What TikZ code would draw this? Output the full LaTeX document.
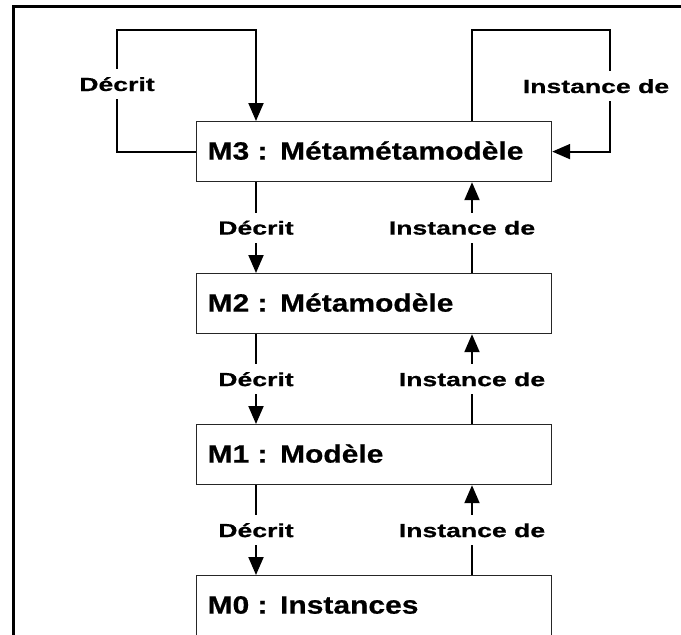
\documentclass[tikz,border=0pt]{standalone}
\usepackage{fontspec}
\setmainfont{Liberation Sans}
\newfontfamily\boxfont{Liberation Sans}[FakeStretch=1.2, FakeBold=0.6]
\newfontfamily\lblfont{Liberation Sans}[FakeStretch=1.4, FakeBold=0.6]
\usetikzlibrary{arrows.meta}

\begin{document}
\begin{tikzpicture}[x=1pt,y=-1pt,
  level/.style={draw=black!85, line width=1.2pt, fill=white, anchor=north west,
    inner xsep=11pt, inner ysep=0pt, text width=333pt, align=left,
    text height=38pt, text depth=22pt,
    font=\boxfont\bfseries\fontsize{25}{30}\selectfont},
  lbl/.style={fill=white, inner xsep=3pt, inner ysep=8pt,
    text height=14pt, text depth=0pt,
    font=\lblfont\bfseries\fontsize{19}{22}\selectfont},
  conn/.style={line width=2pt},
  arr/.style={conn, -{Triangle[length=18pt,width=15pt]}},
  frame/.style={line width=3pt}]

% page area
\clip (0,0) rectangle (681,635);
\fill[white] (0,0) rectangle (681,635);
\draw[frame] (13.5,660) -- (13.5,6.5) -- (700,6.5);

% the four modelling levels
\node[level] (m3) at (196,121) {M3 : Métamétamodèle};
\node[level] (m2) at (196,273) {M2 : Métamodèle};
\node[level] (m1) at (196,424) {M1 : Modèle};
\node[level, text depth=44pt] (m0) at (196,575) {M0 : Instances};

% guide coordinates
\coordinate (dx) at (256,0);
\coordinate (ix) at (472,0);
\coordinate (lt) at (117,30);
\coordinate (ltr) at (256,30);
\coordinate (rt) at (472,30);
\coordinate (rtr) at (610,30);

% self loops on M3
\draw[arr] (m3.west) -| (lt) -- (ltr) -- (ltr |- m3.north);
\node[lbl] (dl3) at (117,84) {Décrit};
\draw[arr] (rt |- m3.north) -- (rt) -- (rtr) |- (m3.east);
\node[lbl] (il3) at (596,86) {Instance de};

% between levels
\draw[arr] (m3.south -| dx) -- node[lbl] (d32) {Décrit} (m2.north -| dx);
\draw[arr] (m2.north -| ix) -- node[lbl, xshift=-10pt] (i23) {Instance de} (m3.south -| ix);

\draw[arr] (m2.south -| dx) -- node[lbl] (d21) {Décrit} (m1.north -| dx);
\draw[arr] (m1.north -| ix) -- node[lbl] (i12) {Instance de} (m2.south -| ix);

\draw[arr] (m1.south -| dx) -- node[lbl] (d10) {Décrit} (m0.north -| dx);
\draw[arr] (m0.north -| ix) -- node[lbl] (i01) {Instance de} (m1.south -| ix);
\end{tikzpicture}
\end{document}
